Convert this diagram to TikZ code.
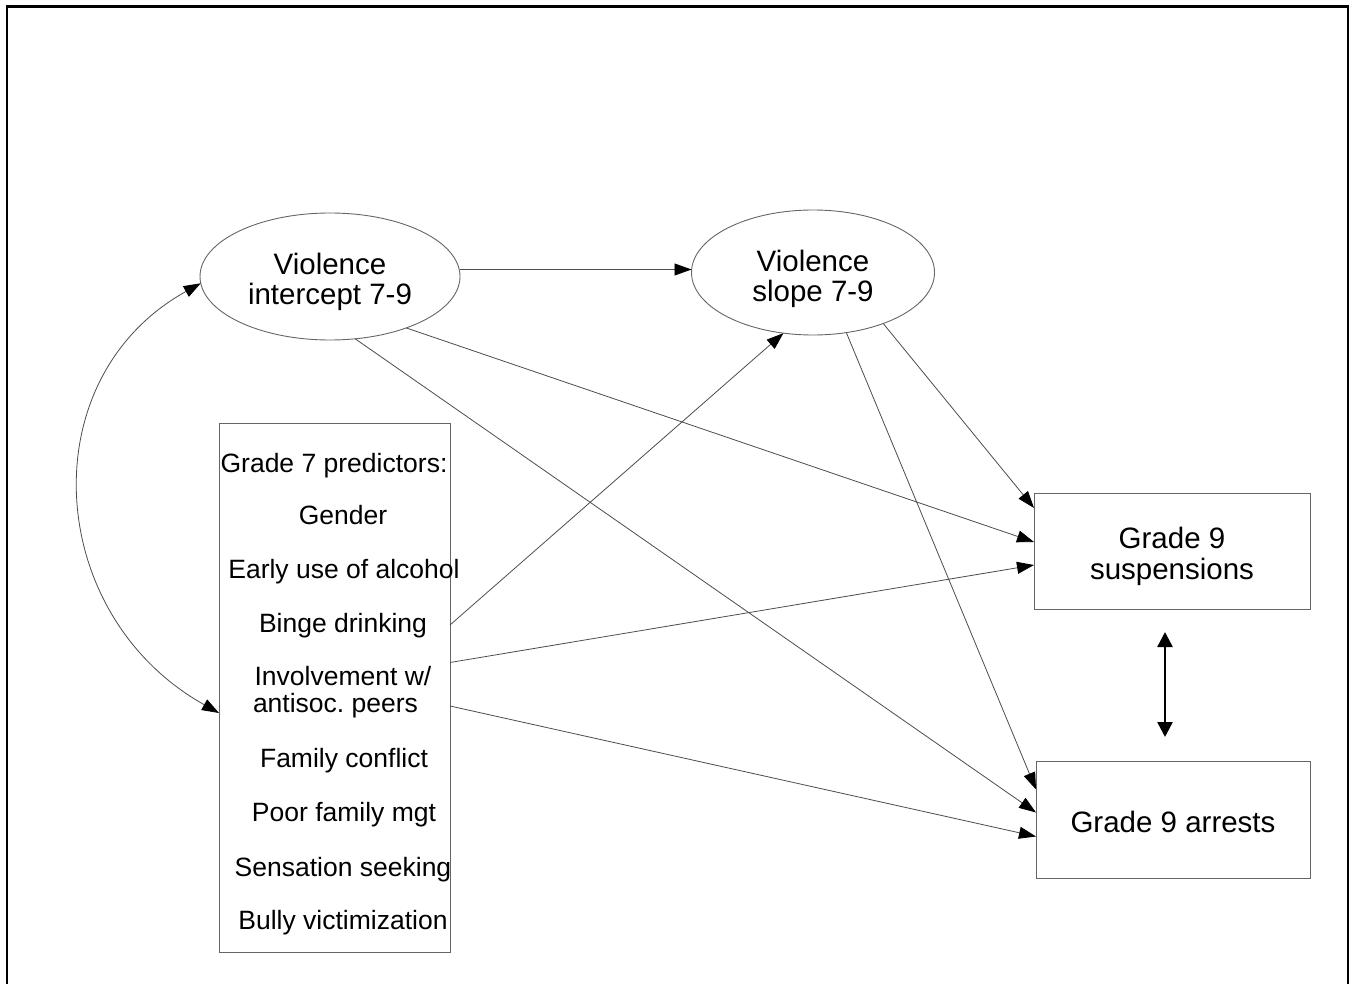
\documentclass[tikz,border=0pt]{standalone}
\usepackage{fontspec}
\setmainfont{Liberation Sans}
\usetikzlibrary{arrows.meta,shapes.geometric}
\newcommand{\lowtext}[2]{\raisebox{-#1}[\height][\depth]{\begin{tabular}{@{}c@{}}#2\end{tabular}}}
\begin{document}
\frenchspacing
\begin{tikzpicture}[x=1pt,y=-1pt,
  lat/.style={ellipse, draw=black!60, line width=0.9pt, inner sep=0pt, outer sep=0pt, font=\fontsize{29.5}{29.5}\selectfont, align=center},
  obs/.style={rectangle, draw=black!60, line width=0.9pt, inner sep=0pt, outer sep=0pt, font=\fontsize{29.5}{30.5}\selectfont, align=center},
  item/.style={font=\fontsize{26.5}{27}\selectfont, inner sep=0pt, anchor=base},
  conn/.style={draw=black!70, line width=0.8pt, -{Triangle[length=17pt,width=12pt,color=black]}},
]
\useasboundingbox (0,0) rectangle (1355,984);
% outer frame
\draw[line width=2.5pt, line join=miter] (7,990) -- (7,6.5) -- (1348,6.5) -- (1348,990);

% latent variables
\node[lat, minimum width=260pt, minimum height=127pt] (int) at (330,276.5) {\lowtext{6.5pt}{Violence\\intercept 7-9}};
\node[lat, minimum width=243pt, minimum height=125pt] (slope) at (813,272.5) {\lowtext{7.5pt}{Violence\\slope 7-9}};

% outcomes
\node[obs, minimum width=276pt, minimum height=116pt] (susp) at (1172,551) {\lowtext{7pt}{Grade 9\\suspensions}};
\node[obs, minimum width=274pt, minimum height=117pt] (arr) at (1173,819.5) {\lowtext{6.5pt}{Grade 9 arrests}};

% predictors box
\node[obs, minimum width=231pt, minimum height=529pt] (pred) at (334.5,687.5) {};
\node[item] (p0) at (334,472) {Grade 7 predictors:};
\node[item] (p1) at (343,524) {Gender};
\node[item] (p2) at (344,578) {Early use of alcohol};
\node[item] (p3) at (343,632) {Binge drinking};
\node[item] (p4) at (343,685) {Involvement w/};
\node[item] (p5) at (335.5,712) {antisoc. peers};
\node[item] (p6) at (344,767) {Family conflict};
\node[item] (p7) at (344,821) {Poor family mgt};
\node[item] (p8) at (343,876) {Sensation seeking};
\node[item] (p9) at (343,929) {Bully victimization};

% paths
\draw[conn] ([yshift=7pt]int.east) -- ([yshift=7pt]int.east -| slope.west);
\draw[conn] (int.-34) -- ([yshift=9pt]susp.west);
\draw[conn] (int.-68) -- ([yshift=7pt]arr.west);
\draw[conn] (slope.-61) -- ([yshift=30pt]arr.west);
\draw[conn] (slope.-36) -- ([yshift=43pt]susp.west);
\draw[conn] ([yshift=62.5pt]pred.east) -- (slope.-116);
\draw[conn] ([yshift=25pt]pred.east) -- ([yshift=-14pt]susp.west);
\draw[conn] ([yshift=-18.5pt]pred.east) -- ([yshift=-17pt]arr.west);

% correlation between intercept and predictors
\draw[draw=black!70, line width=0.8pt, {Triangle[length=17pt,width=12pt,color=black]}-{Triangle[length=17pt,width=12pt,color=black]}]
  (int.183) .. controls (30,378) and (44,615) .. ([yshift=-25.5pt]pred.west);

% residual correlation of outcomes
\draw[line width=2.5pt, {Triangle[length=15pt,width=15pt,color=black]}-{Triangle[length=15pt,width=15pt,color=black]}]
  ([xshift=-7pt,yshift=-23pt]susp.south) -- ([xshift=-8pt,yshift=24pt]arr.north);
\end{tikzpicture}
\end{document}
